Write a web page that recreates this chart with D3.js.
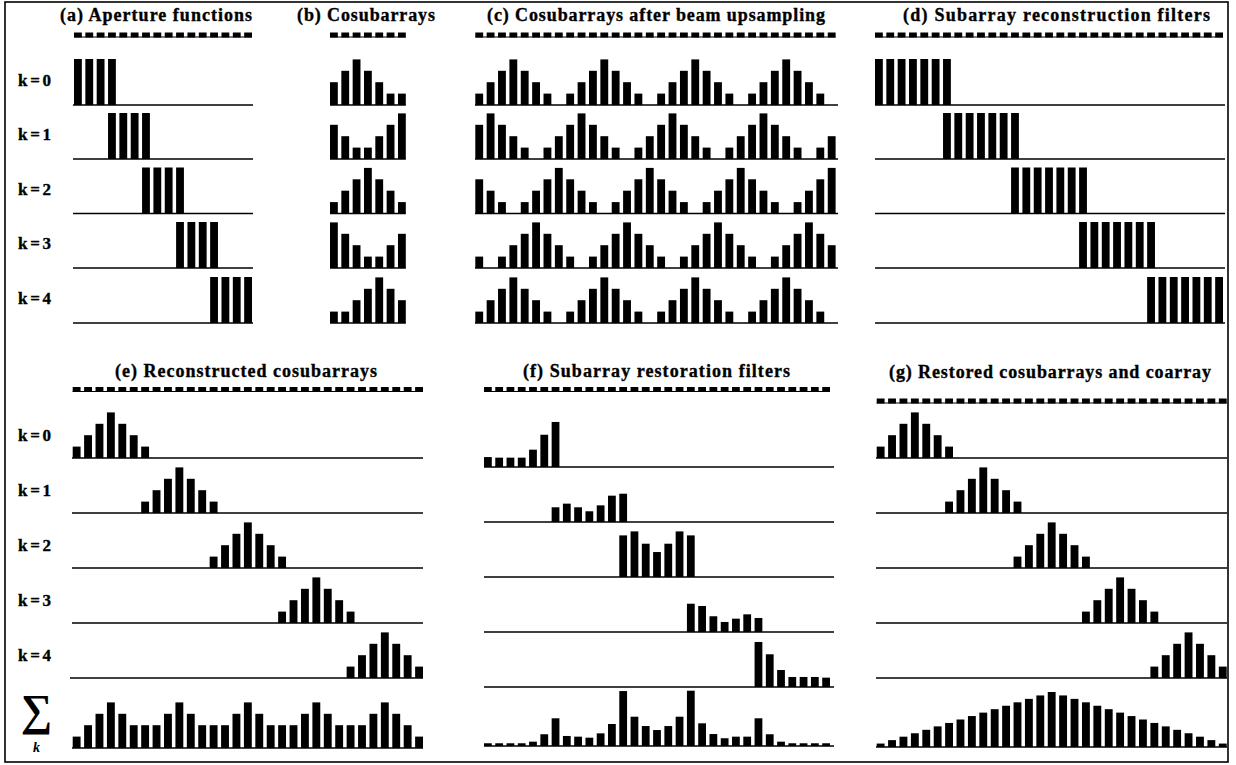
<!DOCTYPE html>
<html>
<head>
<meta charset="utf-8">
<script src="https://cdn.jsdelivr.net/npm/d3@7"></script>
<style>
  body { margin: 0; background: #fff; }
  svg { display: block; }
  text { font-family: "Liberation Serif", "Times New Roman", serif; font-weight: bold; fill: #000; }
  text.heavy { stroke: #000; stroke-width: 0.35; }
</style>
</head>
<body>
<svg id="fig" width="1236" height="765"></svg>
<script>
// ---------- data ----------
const kLabels = ["k=0", "k=1", "k=2", "k=3", "k=4"];

// (a) aperture functions: 16-element array, 4-element subarrays shifted by 3
const apertureSize = 16;
const apertureOffsets = [0, 3, 6, 9, 12];
const apertureWeights = [1, 1, 1, 1];

// (b) cosubarrays sampled on 7 beams
const cosubBeam = [
  [2, 3, 4, 3, 2, 1, 1],
  [3, 2, 1, 1, 2, 3, 4],
  [1, 2, 3, 4, 3, 2, 1],
  [4, 3, 2, 1, 1, 2, 3],
  [1, 1, 2, 3, 4, 3, 2]
];

// (c) cosubarrays after beam upsampling (32 lags)
const cosubUpsampled = [
  [1,2,3,4,3,2,1,0, 1,2,3,4,3,2,1,0, 1,2,3,4,3,2,1,0, 1,2,3,4,3,2,1,0],
  [3,4,3,2,1,0,1,2, 3,4,3,2,1,0,1,2, 3,4,3,2,1,0,1,2, 3,4,3,2,1,0,1,2],
  [3,2,1,0,1,2,3,4, 3,2,1,0,1,2,3,4, 3,2,1,0,1,2,3,4, 3,2,1,0,1,2,3,4],
  [1,0,1,2,3,4,3,2, 1,0,1,2,3,4,3,2, 1,0,1,2,3,4,3,2, 1,0,1,2,3,4,3,2],
  [1,2,3,4,3,2,1,0, 1,2,3,4,3,2,1,0, 1,2,3,4,3,2,1,0, 1,2,3,4,3,2,1,0]
];

// (d)-(g) coarray of 31 lags; subarray segments start every 6 lags
const coarraySize = 31;
const segmentOffsets = [0, 6, 12, 18, 24];
const reconFilter = [1, 1, 1, 1, 1, 1, 1];
const cosubarray = [1, 2, 3, 4, 3, 2, 1];

// (e) sum of reconstructed cosubarrays
const reconSum = [1,2,3,4,3,2,2,2,3,4,3,2,2,2,3,4,3,2,2,2,3,4,3,2,2,2,3,4,3,2,1];

// (f) subarray restoration filters
const restoreFilters = [
  [0.87, 0.82, 0.82, 0.82, 1.52, 2.83, 3.95],
  [1.29, 1.61, 1.29, 0.94, 1.46, 2.31, 2.48],
  [3.65, 4.00, 2.92, 2.19, 2.92, 4.00, 3.65],
  [2.48, 2.28, 1.38, 0.88, 1.17, 1.55, 1.23],
  [3.95, 2.87, 1.49, 0.88, 0.88, 0.88, 0.82]
];
const restoreSum = [0.24,0.24,0.24,0.24,0.38,1.03,2.43,0.88,0.82,0.73,1.11,1.93,4.82,2.57,1.75,1.40,
                    1.75,2.57,4.85,1.99,1.05,0.68,0.82,0.82,2.43,1.03,0.38,0.24,0.24,0.24,0.24];

// (g) restored coarray
const coarray = [1,2,3,4,5,6,7,8,9,10,11,12,13,14,15,16,15,14,13,12,11,10,9,8,7,6,5,4,3,2,1];

// ---------- drawing ----------
const svg = d3.select("#fig");

svg.append("rect")
  .attr("x", 5).attr("y", 2).attr("width", 1223).attr("height", 760)
  .attr("fill", "none").attr("stroke", "#000").attr("stroke-width", 1.6);

const yUnit = d3.scaleLinear().domain([0, 1]).range([0, 46]);
const yTri = d3.scaleLinear().domain([0, 4]).range([0, 45.6]);
const yCo = d3.scaleLinear().domain([0, 16]).range([0, 55]);

function band(n, x0, x1) {
  return d3.scaleBand().domain(d3.range(n)).range([x0, x1]).paddingInner(0.31).paddingOuter(0);
}

function title(txt, x0, x1, y) {
  svg.append("text").attr("class", "heavy")
    .attr("x", x0).attr("y", y)
    .attr("font-size", 18)
    .attr("textLength", x1 - x0)
    .attr("lengthAdjust", "spacing")
    .text(txt);
}

function header(x, y) {
  const g = svg.append("g");
  const [r0, r1] = x.range();
  g.append("line").attr("x1", r0).attr("x2", r1).attr("y1", y + 2).attr("y2", y + 2)
    .attr("stroke", "#000").attr("stroke-width", 1);
  g.selectAll("rect").data(x.domain()).join("rect")
    .attr("x", d => x(d)).attr("width", x.bandwidth())
    .attr("y", y - 2.5).attr("height", 5).attr("fill", "#000");
}

// bars: array of {i, v}
function row(x, y, base, bars, lineX0, lineX1) {
  const g = svg.append("g");
  g.append("line").attr("x1", lineX0).attr("x2", lineX1).attr("y1", base).attr("y2", base)
    .attr("stroke", "#000").attr("stroke-width", 1.3);
  g.selectAll("rect").data(bars.filter(b => b.v > 0)).join("rect")
    .attr("x", b => x(b.i)).attr("width", x.bandwidth())
    .attr("y", b => base - y(b.v)).attr("height", b => y(b.v))
    .attr("fill", "#000");
}

const full = arr => arr.map((v, i) => ({ i, v }));
const placed = (arr, off) => arr.map((v, j) => ({ i: off + j, v }));

function kLabel(txt, y) {
  svg.append("text").attr("class", "heavy").attr("x", 18).attr("y", y)
    .attr("font-size", 17).attr("textLength", 33).attr("lengthAdjust", "spacing").text(txt);
}

// ----- top row: (a)-(d) -----
const topBase = [105, 159, 213.5, 268, 323];
kLabels.forEach((k, r) => kLabel(k, topBase[r] - 19));

// (a)
const xa = band(apertureSize, 74, 252);
title("(a) Aperture functions", 60, 252, 20.5);
header(xa, 35);
apertureOffsets.forEach((off, r) => row(xa, yUnit, topBase[r], placed(apertureWeights, off), 73, 253));

// (b)
const xb = band(7, 330, 405.8);
title("(b) Cosubarrays", 297, 435, 20.5);
header(xb, 35);
cosubBeam.forEach((vals, r) => row(xb, yTri, topBase[r], full(vals), 330, 405.8));

// (c)
const xc = band(32, 475.3, 835.6);
title("(c) Cosubarrays after beam upsampling", 487, 825, 20.5);
header(xc, 35);
cosubUpsampled.forEach((vals, r) => row(xc, yTri, topBase[r], full(vals), 475, 838));

// (d)
const xd = band(coarraySize, 875, 1223);
title("(d) Subarray reconstruction filters", 903, 1210, 20.5);
header(xd, 35);
segmentOffsets.forEach((off, r) => row(xd, yUnit, topBase[r], placed(reconFilter, off), 875, 1225));

// ----- bottom row: (e)-(g) -----
const egBase = [458, 513, 568, 623, 678];
const fBase = [467, 522, 577, 632, 687];
kLabels.forEach((k, r) => kLabel(k, egBase[r] - 17));

// summation symbol with index k
svg.append("text").attr("x", 36.5).attr("y", 725).attr("text-anchor", "middle")
  .attr("font-size", 44).attr("font-weight", "normal").text("\u2211");
svg.append("text").attr("x", 36.5).attr("y", 752).attr("text-anchor", "middle")
  .attr("font-size", 14).attr("font-style", "italic").text("k");

// (e)
const xe = band(coarraySize, 72.7, 423);
title("(e) Reconstructed cosubarrays", 115, 377, 376.7);
header(xe, 389.5);
segmentOffsets.forEach((off, r) => row(xe, yTri, egBase[r], placed(cosubarray, off), r === 4 ? 70 : 72, 423));
row(xe, yTri, 748, full(reconSum), 72, 423);

// (f)
const xf = band(coarraySize, 484, 830);
title("(f) Subarray restoration filters", 523, 790, 376.7);
header(xf, 389.5);
segmentOffsets.forEach((off, r) => row(xf, yTri, fBase[r], placed(restoreFilters[r], off), 484, 834));
row(xf, yTri, 746, full(restoreSum), 484, 834);

// (g)
const xg = band(coarraySize, 876.7, 1226.7);
title("(g) Restored cosubarrays and coarray", 889, 1211, 378);
header(xg, 401);
segmentOffsets.forEach((off, r) => row(xg, yTri, egBase[r], placed(cosubarray, off), 876, 1227));
row(xg, yCo, 747, full(coarray), 876, 1227);
</script>
</body>
</html>
